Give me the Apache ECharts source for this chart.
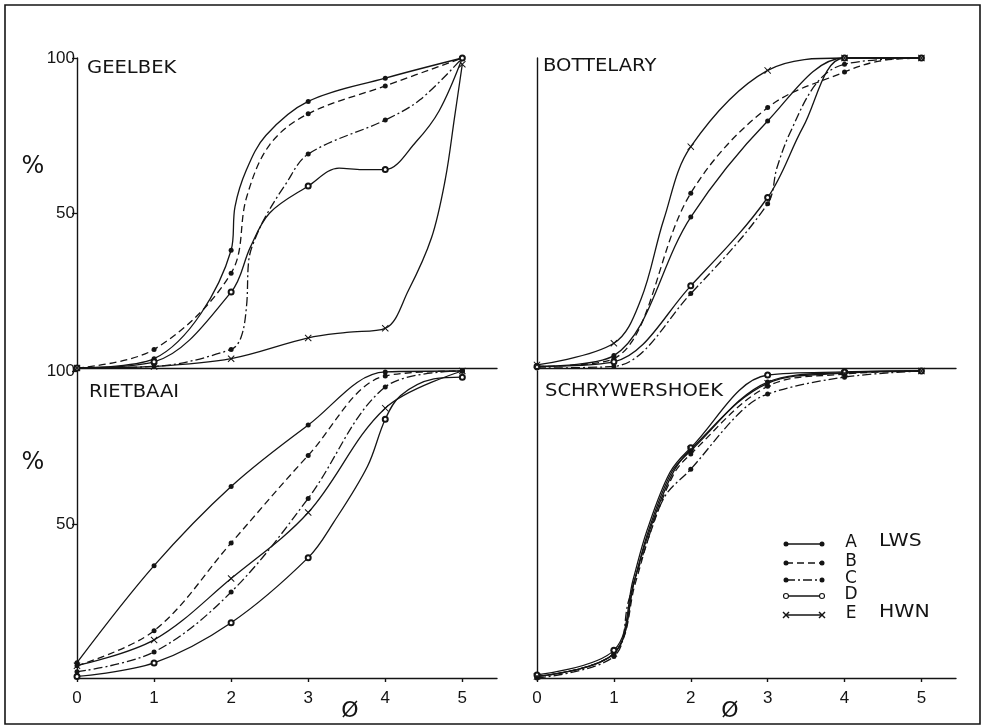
<!DOCTYPE html>
<html>
<head>
<meta charset="utf-8">
<script src="https://cdn.jsdelivr.net/npm/echarts@6/dist/echarts.min.js"></script>
<style>
  html, body { margin: 0; padding: 0; background: #fff; }
  #chart { width: 984px; height: 728px; }
</style>
</head>
<body>
<div id="chart"></div>
<script>
// Grain-size classes (phi) and the labelled y ticks (%)
const phi = [0, 1, 2, 3, 4, 5];
const yTicks = [50, 100];
const panelNames = ['GEELBEK', 'BOTTELARY', 'RIETBAAI', 'SCHRYWERSHOEK'];
const seriesCodes = ['A', 'B', 'C', 'D', 'E'];
const legendNotes = ['LWS', '', '', '', 'HWN'];

// Cumulative percentage at phi 0..5 for each sample line
const geelbekA = [0, 3, 38, 86, 93.5, 100];
const geelbekB = [0, 6, 30.6, 82, 91, 100];
const geelbekC = [0, 0.5, 6, 69, 80, 100];
const geelbekD = [0, 2, 24.5, 58.7, 64, 100];
const geelbekE = [0, 0.5, 3, 9.7, 12.8, 98];

const bottelaryA = [0.5, 4, 48.7, 79.7, 100, 100];
const bottelaryB = [0.5, 3, 56.4, 84, 95.5, 100];
const bottelaryC = [0, 0.5, 24, 53, 98, 100];
const bottelaryD = [0.5, 2, 26.5, 55, 100, 100];
const bottelaryE = [1, 8, 71.4, 96, 100, 100];

const rietbaaiA = [5, 36.6, 62.4, 82.4, 99.7, 100];
const rietbaaiB = [4, 15.4, 44, 72.5, 98.4, 100];
const rietbaaiC = [2, 8.5, 28, 58.5, 94.8, 100];
const rietbaaiD = [0.5, 4.9, 18, 39.2, 84.3, 98];
const rietbaaiE = [4, 12.4, 32.4, 53.9, 87.9, 100];

const schrywershoekA = [0.5, 8, 74, 96.4, 99.5, 100];
const schrywershoekB = [0.5, 8, 73, 95, 99, 100];
const schrywershoekC = [0, 7, 68, 92.5, 98, 100];
const schrywershoekD = [1, 9, 75, 98.7, 99.7, 100];
const schrywershoekE = [0.5, 8, 74.5, 96, 99.3, 100];

// Intermediate [phi, %] points along the hand-drawn curves (no markers)
const geelbekATrace = [[2.05, 52], [2.2, 64], [2.45, 75]];
const geelbekBTrace = [[2.2, 55], [2.5, 72]];
const geelbekCTrace = [[2.13, 10], [2.2, 20], [2.23, 35], [2.3, 41], [2.45, 49], [2.7, 59], [4.45, 86.5]];
const geelbekDTrace = [[2.25, 39], [2.5, 50], [3.4, 64.5], [3.7, 64], [4.4, 73], [4.7, 83]];
const geelbekETrace = [[3.5, 11.5], [4.3, 25], [4.6, 42], [4.78, 61], [4.9, 81]];

const bottelaryBTrace = [[4.45, 99]];
const bottelaryCTrace = [[3.12, 64.5], [3.29, 75.8], [3.64, 92]];
const bottelaryDTrace = [[3.46, 77.7]];
const bottelaryETrace = [[1.35, 22], [1.65, 48]];

const rietbaaiDTrace = [[3.33, 50.7], [3.77, 69], [4.2, 92], [4.63, 97.4]];

const schrywershoekATrace = [[1.27, 32], [1.45, 48], [1.75, 67]];
const schrywershoekBTrace = [[1.28, 31], [1.47, 47], [1.77, 66]];
const schrywershoekCTrace = [[1.19, 25], [1.39, 41], [1.66, 59], [2.64, 86.5]];
const schrywershoekDTrace = [[1.25, 32], [1.43, 48], [1.73, 67]];
const schrywershoekETrace = [[1.26, 31], [1.45, 47], [1.75, 66]];

const panelValues = [
  [geelbekA, geelbekB, geelbekC, geelbekD, geelbekE],
  [bottelaryA, bottelaryB, bottelaryC, bottelaryD, bottelaryE],
  [rietbaaiA, rietbaaiB, rietbaaiC, rietbaaiD, rietbaaiE],
  [schrywershoekA, schrywershoekB, schrywershoekC, schrywershoekD, schrywershoekE]
];
const panelTraces = [
  [geelbekATrace, geelbekBTrace, geelbekCTrace, geelbekDTrace, geelbekETrace],
  [[], bottelaryBTrace, bottelaryCTrace, bottelaryDTrace, bottelaryETrace],
  [[], [], [], rietbaaiDTrace, []],
  [schrywershoekATrace, schrywershoekBTrace, schrywershoekCTrace, schrywershoekDTrace, schrywershoekETrace]
];

// ---- drawing ----
const INK = '#141414';
const FONT = '"DejaVu Sans", "Liberation Sans", sans-serif';
const TICK_FONT = '"Liberation Sans Narrow", "Liberation Sans", sans-serif';
const CROSS = 'path://M0,1L1,0L5,4L9,0L10,1L6,5L10,9L9,10L5,6L1,10L0,9L4,5Z';

const lineTypes = { A: 'solid', B: [7, 4], C: [9, 3, 2, 3], D: 'solid', E: 'solid' };
const markSymbols = { A: 'circle', B: 'circle', C: 'circle', D: 'emptyCircle', E: CROSS };
const markSizes = { A: 5, B: 5, C: 5, D: 5, E: 7 };

// panel frames
const grids = [
  { left: 77, top: 58, width: 420, height: 310 },
  { left: 537, top: 58, width: 419, height: 310 },
  { left: 77, top: 371, width: 420, height: 307 },
  { left: 537, top: 371, width: 419, height: 307 }
];

function buildData(values, trace) {
  const pts = values.map((v, i) => ({ value: [phi[i], v], mark: true }));
  (trace || []).forEach(p => pts.push({ value: [p[0], p[1]], mark: false }));
  pts.sort((a, b) => a.value[0] - b.value[0]);
  return pts.map(p => p.mark ? { value: p.value } : { value: p.value, symbol: 'none' });
}

const xAxes = grids.map((g, i) => {
  const bottom = i >= 2;
  return {
    type: 'value', gridIndex: i, min: 0, max: 5.45,
    axisLine: { show: true, lineStyle: { color: INK, width: 1.4 } },
    axisTick: { show: bottom, customValues: phi, length: 4, lineStyle: { color: INK, width: 1.4 } },
    axisLabel: { show: bottom, customValues: phi, color: INK, fontSize: 17, fontFamily: TICK_FONT, margin: 12 },
    splitLine: { show: false }
  };
});
const yAxes = grids.map((g, i) => {
  const left = i % 2 === 0;
  return {
    type: 'value', gridIndex: i, min: 0, max: 100,
    axisLine: { show: true, onZero: false, lineStyle: { color: INK, width: 1.4 } },
    axisTick: { show: left, customValues: yTicks, length: 5, lineStyle: { color: INK, width: 1.3 } },
    axisLabel: { show: left, customValues: yTicks, color: INK, fontSize: 17, fontFamily: TICK_FONT, margin: 2 },
    splitLine: { show: false }
  };
});

const series = [];
panelValues.forEach((vals, gi) => {
  seriesCodes.forEach((code, si) => {
    series.push({
      type: 'line', name: panelNames[gi] + ' ' + code,
      xAxisIndex: gi, yAxisIndex: gi,
      data: buildData(vals[si], panelTraces[gi][si]),
      smooth: 0.35,
      symbol: markSymbols[code], symbolSize: markSizes[code],
      showSymbol: true, showAllSymbol: true,
      lineStyle: { color: INK, width: 1.3, type: lineTypes[code] },
      itemStyle: { color: INK, borderColor: INK, borderWidth: code === 'D' ? 1.1 : 0 },
      emphasis: { disabled: true }, silent: true, clip: false
    });
  });
});

// texts and key
const graphics = [
  { type: 'rect', shape: { x: 5, y: 5, width: 975, height: 719 }, style: { fill: 'none', stroke: INK, lineWidth: 1.6 }, silent: true }
];
const titlePos = [[87, 69], [543, 67], [89, 393], [545, 392]];
panelNames.forEach((name, i) => {
  graphics.push({ type: 'text', x: titlePos[i][0], y: titlePos[i][1], scaleX: 1.15,
    style: { text: name, font: '17px ' + FONT, fill: INK, align: 'left', verticalAlign: 'middle' } });
});
[[33, 167], [33, 463]].forEach(p => graphics.push({ type: 'text', x: p[0], y: p[1],
  style: { text: '%', font: '24px ' + FONT, fill: INK, align: 'center', verticalAlign: 'middle' } }));
[[350, 711], [730, 711]].forEach(p => graphics.push({ type: 'text', x: p[0], y: p[1],
  style: { text: 'Ø', font: '22px ' + FONT, fill: INK, align: 'center', verticalAlign: 'middle' } }));

const keyRows = [544, 563, 580, 596, 615];
const keyX1 = 786, keyX2 = 822;
function keyMark(code, x, y) {
  if (code === 'E') {
    return { type: 'group', children: [
      { type: 'line', shape: { x1: x - 3, y1: y - 3, x2: x + 3, y2: y + 3 }, style: { stroke: INK, lineWidth: 1.4 } },
      { type: 'line', shape: { x1: x + 3, y1: y - 3, x2: x - 3, y2: y + 3 }, style: { stroke: INK, lineWidth: 1.4 } }
    ] };
  }
  return { type: 'circle', shape: { cx: x, cy: y, r: 2.5 },
    style: code === 'D' ? { fill: '#fff', stroke: INK, lineWidth: 1.1 } : { fill: INK } };
}
seriesCodes.forEach((code, i) => {
  const y = keyRows[i];
  const dash = Array.isArray(lineTypes[code]) ? lineTypes[code] : null;
  graphics.push({ type: 'line', shape: { x1: keyX1, y1: y, x2: keyX2, y2: y },
    style: { stroke: INK, lineWidth: 1.3, lineDash: dash } });
  graphics.push(keyMark(code, keyX1, y));
  graphics.push(keyMark(code, keyX2, y));
  graphics.push({ type: 'text', x: 851, y: y - 1,
    style: { text: code, font: '17px ' + FONT, fill: INK, align: 'center', verticalAlign: 'middle' } });
  if (legendNotes[i]) {
    graphics.push({ type: 'text', x: 879, y: y - 2, scaleX: 1.2,
      style: { text: legendNotes[i], font: '17px ' + FONT, fill: INK, align: 'left', verticalAlign: 'middle' } });
  }
});

const chart = echarts.init(document.getElementById('chart'));
chart.setOption({
  animation: false,
  backgroundColor: '#fff',
  grid: grids,
  xAxis: xAxes,
  yAxis: yAxes,
  series: series,
  graphic: graphics
});
</script>
</body>
</html>
